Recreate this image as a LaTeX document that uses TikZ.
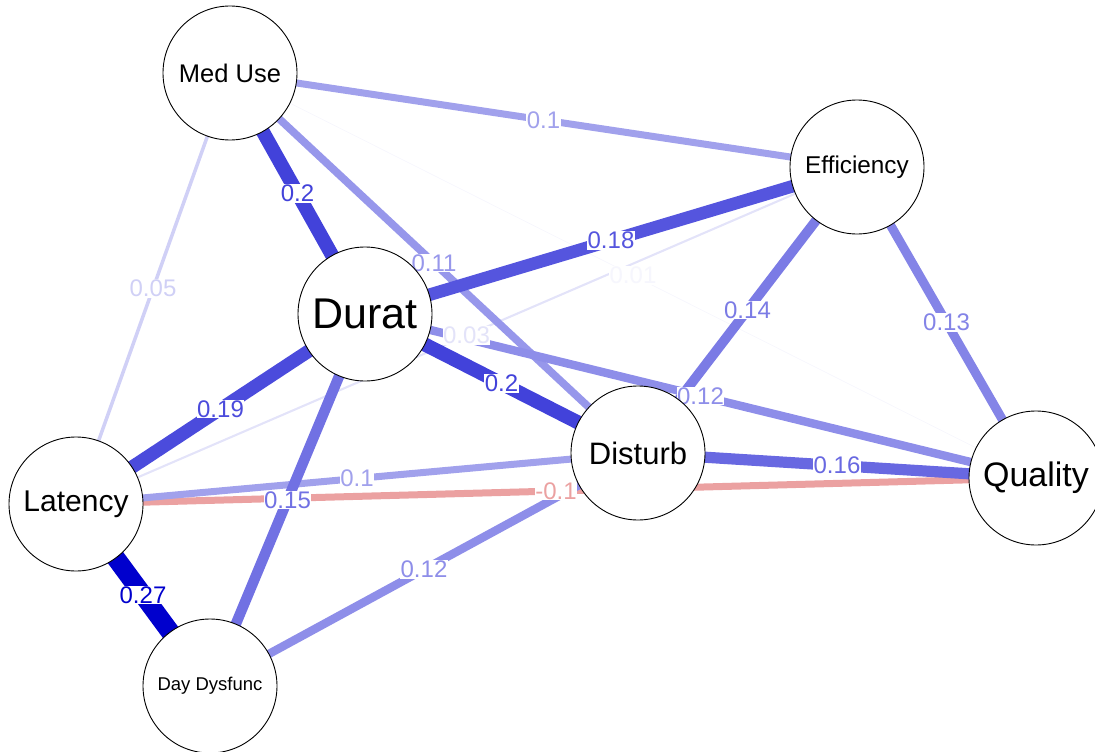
\documentclass[tikz,border=0pt]{standalone}
\usepackage{fontspec}
\setmainfont{Liberation Sans}
\definecolor{qblue}{RGB}{0,0,205}
\definecolor{qred}{RGB}{200,0,0}
\pgfdeclarelayer{edges}
\pgfdeclarelayer{labels}
\pgfsetlayers{edges,labels,main}

\begin{document}
\begin{tikzpicture}[x=1pt, y=-1pt,
    var/.style={circle, draw=black, line width=0.9pt, fill=white,
                minimum size=134pt, inner sep=0pt},
    posedge/.style 2 args={draw=qblue!#1!white, line width=#2},
    negedge/.style 2 args={draw=qred!#1!white, line width=#2},
    plab/.style={fill=white, inner sep=0.6pt, text=qblue!#1!white,
                 font=\fontsize{24}{24}\selectfont},
    nlab/.style={fill=white, inner sep=0.6pt, text=qred!#1!white,
                 font=\fontsize{24}{24}\selectfont}]
  \useasboundingbox (0,0) rectangle (1095,752);

  % Variables
  \node[var, font=\fontsize{25.5}{26}\selectfont] (mu) at (230,73) {Med Use};
  \node[var, font=\fontsize{24.3}{25}\selectfont] (ef) at (857,167) {Efficiency};
  \node[var, font=\fontsize{43}{44}\selectfont] (du) at (365,314) {Durat};
  \node[var, font=\fontsize{30}{31}\selectfont] (la) at (76,504) {Latency};
  \node[var, font=\fontsize{31}{32}\selectfont] (di) at (638,453) {Disturb};
  \node[var, font=\fontsize{34}{35}\selectfont] (qu) at (1036,478) {Quality};
  \node[var, font=\fontsize{18.5}{19}\selectfont] (dd) at (210,686) {Day Dysfunc};

  % Edges, weakest first
  \begin{pgfonlayer}{edges}
    \draw[posedge={3.7}{0.7pt}] (mu.center) -- coordinate (muqu) (qu.center);
    \draw[posedge={11.1}{2.1pt}] (la.center) -- coordinate (laef) (ef.center);
    \draw[posedge={18.5}{3.5pt}] (mu.center) -- coordinate (mula) (la.center);
    \draw[posedge={37}{7pt}] (mu.center) -- coordinate (muef) (ef.center);
    \draw[negedge={37}{7pt}] (la.center) -- coordinate (laqu) (qu.center);
    \draw[posedge={37}{7pt}] (la.center) -- coordinate (ladi) (di.center);
    \draw[posedge={40.7}{7.7pt}] (mu.center) -- coordinate (mudi) (di.center);
    \draw[posedge={44.4}{8.4pt}] (du.center) -- coordinate (duqu) (qu.center);
    \draw[posedge={44.4}{8.4pt}] (dd.center) -- coordinate (dddi) (di.center);
    \draw[posedge={48.1}{9.1pt}] (ef.center) -- coordinate (efqu) (qu.center);
    \draw[posedge={51.9}{9.8pt}] (ef.center) -- coordinate (efdi) (di.center);
    \draw[posedge={55.6}{10.5pt}] (du.center) -- coordinate (dudd) (dd.center);
    \draw[posedge={59.3}{11.2pt}] (di.center) -- coordinate (diqu) (qu.center);
    \draw[posedge={66.7}{12.6pt}] (du.center) -- coordinate (duef) (ef.center);
    \draw[posedge={70.4}{13.3pt}] (du.center) -- coordinate (dula) (la.center);
    \draw[posedge={74.1}{14pt}] (mu.center) -- coordinate (mudu) (du.center);
    \draw[posedge={74.1}{14pt}] (du.center) -- coordinate (dudi) (di.center);
    \draw[posedge={100}{18.9pt}] (la.center) -- coordinate (ladd) (dd.center);
  \end{pgfonlayer}

  % Edge weights
  \begin{pgfonlayer}{labels}
    \foreach \c/\p/\t in {muqu/3.7/0.01, laef/11.1/0.03, mula/18.5/0.05,
        muef/37/0.1, ladi/37/0.1, mudi/40.7/0.11, duqu/44.4/0.12,
        dddi/44.4/0.12, efqu/48.1/0.13, efdi/51.9/0.14, dudd/55.6/0.15,
        diqu/59.3/0.16, duef/66.7/0.18, dula/70.4/0.19, mudu/74.1/0.2,
        dudi/74.1/0.2, ladd/100/0.27}
      \node[plab=\p] at (\c) {\t};
    \node[nlab=37] at (laqu) {-0.1};
  \end{pgfonlayer}
\end{tikzpicture}
\end{document}
